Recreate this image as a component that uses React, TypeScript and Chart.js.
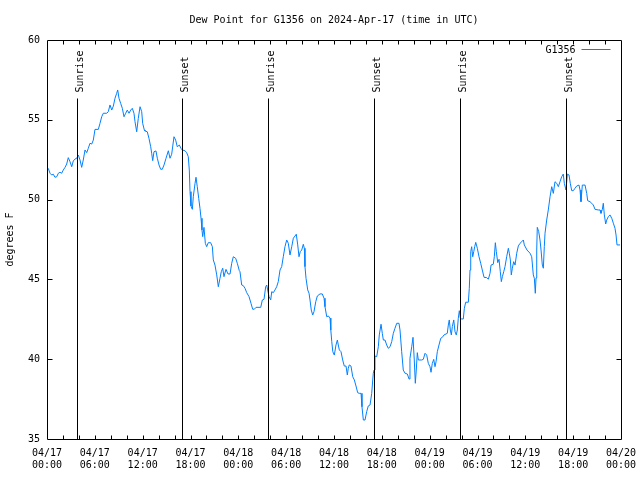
import { useEffect, useRef } from "react";
import { Chart, registerables } from "chart.js";

Chart.register(...registerables);

const TITLE = "Dew Point for G1356 on 2024-Apr-17 (time in UTC)";
const SERIES_LABEL = "G1356";
const Y_TITLE = "degrees F";
const MONTH = "04";
const START_DAY = 17;

// hours since 2024-04-17 00:00 UTC
const hours = [
  0.16, 0.38, 0.59, 0.79, 1.0, 1.22, 1.42, 1.63, 1.84, 2.04, 2.26, 2.47, 2.67, 2.89, 3.1, 3.3, 3.51, 3.73, 3.93, 4.14,
  4.35, 4.55, 4.77, 4.98, 5.18, 5.39, 5.61, 5.81, 6.02, 6.44, 6.65, 6.86, 7.06, 7.49, 7.69, 7.9, 8.12, 8.32, 8.53, 8.74,
  8.87, 9.03, 9.24, 9.45, 9.66, 9.87, 10.07, 10.29, 10.5, 10.7, 10.91, 11.04, 11.25, 11.45, 11.67, 11.88, 12.0, 12.21,
  12.29, 12.58, 12.79, 13.01, 13.13, 13.26, 13.42, 13.67, 13.84, 14.05, 14.26, 14.46, 14.68, 14.93, 15.22, 15.43, 15.64,
  15.93, 16.14, 16.34, 16.6, 16.81, 16.97, 17.31, 17.52, 17.72, 17.85, 17.94, 18.06, 18.23, 18.35, 18.57, 18.69, 18.85,
  19.03, 19.19, 19.32, 19.44, 19.53, 19.69, 19.86, 20.03, 20.23, 20.53, 20.74, 20.86, 21.07, 21.29, 21.49, 21.7, 21.86,
  22.04, 22.2, 22.45, 22.7, 22.96, 23.17, 23.37, 23.67, 23.87, 24.12, 24.21, 24.42, 24.62, 24.84, 25.05, 25.34, 25.59,
  25.8, 26.0, 26.22, 26.81, 27.01, 27.22, 27.43, 27.56, 27.68, 27.85, 28.06, 28.19, 28.39, 28.6, 28.81, 29.01, 29.23,
  29.44, 29.64, 29.85, 30.07, 30.27, 30.48, 30.7, 30.9, 31.11, 31.27, 31.45, 31.61, 31.77, 31.95, 32.15, 32.28, 32.36,
  32.49, 32.7, 32.87, 32.99, 33.15, 33.33, 33.49, 33.71, 33.91, 34.24, 34.53, 34.75, 34.87, 35.09, 35.29, 35.5, 35.6,
  35.72, 35.85, 36.04, 36.25, 36.42, 36.54, 36.67, 36.88, 37.09, 37.29, 37.51, 37.67, 37.79, 37.92, 38.13, 38.35, 38.55,
  38.76, 38.97, 39.17, 39.39, 39.51, 39.68, 39.89, 40.1, 40.3, 40.52, 40.73, 40.86, 40.93, 41.02, 41.14, 41.36, 41.56,
  41.68, 41.9, 42.06, 42.19, 42.4, 42.61, 42.81, 43.03, 43.24, 43.44, 43.65, 43.87, 44.15, 44.28, 44.49, 44.69, 44.91,
  45.2, 45.41, 45.53, 45.75, 45.91, 46.07, 46.2, 46.32, 46.45, 46.58, 47.0, 47.2, 47.42, 47.63, 47.83, 48.04, 48.17,
  48.33, 48.51, 48.67, 48.8, 48.96, 49.17, 49.39, 49.59, 49.8, 50.21, 50.34, 50.46, 50.59, 50.72, 50.84, 51.02, 51.18,
  51.34, 51.47, 51.59, 51.72, 51.85, 52.02, 52.22, 52.35, 52.52, 52.85, 52.97, 53.06, 53.15, 53.27, 53.4, 53.53, 53.65,
  53.78, 53.98, 54.19, 54.4, 54.6, 54.82, 55.16, 55.36, 55.57, 55.7, 55.98, 56.11, 56.24, 56.36, 56.54, 56.7, 56.86,
  56.99, 57.12, 57.29, 57.45, 57.66, 57.87, 57.99, 58.12, 58.24, 58.37, 58.54, 58.71, 58.92, 59.12, 59.33, 59.55, 59.75,
  59.87, 60.21, 60.59, 60.8, 61.0, 61.13, 61.25, 61.34, 61.43, 61.5, 61.68, 61.84, 61.97, 62.13, 62.26, 62.38, 62.47,
  62.68, 62.88, 63.1, 63.31, 63.51, 63.72, 63.94, 64.14, 64.35, 64.56, 64.76, 64.89, 65.1, 65.27, 65.48, 65.64, 65.82,
  66.02, 66.23, 66.44, 66.73, 66.86, 66.98, 67.15, 67.49, 67.7, 67.82, 68.11, 68.33, 68.53, 68.74, 69.16, 69.37, 69.49,
  69.66, 69.78, 69.91, 70.08, 70.21, 70.41, 70.62, 70.84, 71.04, 71.25, 71.38, 71.5, 71.88,
];

// dew point, degrees F
const dewPoint = [
  51.96, 51.65, 51.54, 51.59, 51.4, 51.43, 51.65, 51.71, 51.65, 51.85, 52.02, 52.23, 52.63, 52.37, 52.06, 52.42, 52.54,
  52.59, 52.79, 52.48, 52.02, 52.48, 53.11, 52.94, 53.21, 53.53, 53.48, 53.73, 54.4, 54.4, 54.78, 55.19, 55.41, 55.41,
  55.51, 55.93, 55.61, 55.86, 56.35, 56.66, 56.87, 56.35, 56.03, 55.72, 55.19, 55.41, 55.61, 55.41, 55.61, 55.72, 55.41,
  54.88, 54.25, 55.09, 55.82, 55.51, 54.78, 54.36,
  54.3, 54.25, 53.84, 53.31, 52.9, 52.44, 53.0, 53.05, 52.59, 52.17, 51.9, 51.9, 52.17, 52.59, 53.06, 52.59, 52.84,
  53.94, 53.73, 53.31, 53.42, 53.21, 53.11, 53.06, 52.94, 52.69, 51.85, 50.5, 49.6, 49.39, 50.18, 51.02, 51.4, 50.81,
  50.08, 49.45, 48.83, 48.1, 47.68, 48.26, 47.26, 47.05, 47.3, 47.3, 47.05, 46.22, 45.9, 45.28, 44.54, 45.07, 45.48,
  45.7, 45.17, 45.63, 45.34, 45.34, 46.01, 46.42, 46.32, 46.01, 45.55, 45.48, 44.65, 44.61, 44.44, 44.17, 43.92, 43.5,
  43.13, 43.13, 43.25, 43.25, 43.71, 43.75, 44.54, 44.65, 44.34, 43.92, 43.71, 44.23, 44.17, 44.34, 44.54, 44.86, 45.59,
  45.8, 46.42, 47.05, 47.47, 47.26, 46.53, 47.05, 47.58, 47.72, 47.83, 47.16, 46.42, 46.74, 46.84, 47.2, 46.95, 45.8,
  45.07, 44.34, 44.13, 43.71, 43.08, 42.77, 42.98, 43.6, 43.96, 44.09, 44.09, 43.82, 43.29, 42.66, 42.71, 42.58, 41.83,
  41.1, 40.47, 40.26, 40.89, 41.2, 40.89, 40.58, 40.47, 39.95, 39.57, 39.57, 39.01, 39.43, 39.64, 39.57, 38.9, 38.7,
  38.32, 37.9, 37.86, 37.86, 37.02, 36.19, 36.19, 36.71, 37.07, 37.13, 37.86, 38.7, 39.12, 39.32, 40.2, 40.16, 40.78,
  41.52, 42.19, 41.62, 41.2, 41.2, 40.89, 40.68, 40.78, 41.1, 41.62, 41.94, 42.25, 42.25, 41.83, 40.47, 39.32, 39.12,
  39.07, 38.76, 40.06, 40.78, 41.37, 39.95, 38.49, 39.32, 40.41, 39.95, 39.95, 39.99, 40.37, 40.26, 39.74, 39.53, 39.18,
  39.74, 39.99, 39.53, 39.84, 40.47, 40.89, 41.31, 41.37, 41.52, 41.62, 42.14, 42.46, 41.83, 41.52, 42.04, 42.46, 41.72,
  41.52, 41.83, 42.56, 43.04, 42.56, 42.52, 42.52, 43.19, 43.57, 43.57, 44.44, 45.59, 46.74, 47.05, 46.42, 46.74, 47.05,
  47.32, 46.95, 46.42, 46.01, 45.59, 45.13, 45.11, 45.01, 45.38, 45.9, 45.95, 46.42, 47.3, 46.74, 46.05, 46.26, 45.48,
  44.86, 45.17, 45.48, 45.8, 46.42, 46.95, 46.64, 46.22, 45.28, 45.7, 46.11, 45.9, 46.64, 47.09, 47.26, 47.36, 47.47,
  47.16, 46.84, 46.64, 46.42, 45.28, 45.07, 44.13, 45.09, 46.84, 48.26, 47.99, 47.47, 46.84, 45.9, 45.7, 47.05, 47.89,
  48.72, 49.35, 50.18, 50.81, 50.39, 51.12, 51.02, 50.81, 51.12, 51.43, 51.6, 51.02, 50.6, 51.6, 51.54, 51.02, 50.56,
  50.56, 50.71, 50.85, 50.91, 50.6, 49.87, 50.91, 50.91, 50.39, 49.93, 49.87, 49.77, 49.66, 49.39, 49.35, 49.35, 49.14,
  49.39, 49.77, 49.04, 48.47, 48.72, 48.93, 49.04, 48.83, 48.52, 48.2, 47.78, 47.16, 47.16,
];

const sunEventLabels = ["Sunrise", "Sunset", "Sunrise", "Sunset", "Sunrise", "Sunset"];
const sunEventHours = [3.8, 16.97, 27.76, 41.06, 51.85, 65.14];

const X_MIN = 0;
const X_MAX = 72;
const X_LABEL_STEP = 6;
const X_TICK_STEP = 2;
const Y_MIN = 35;
const Y_MAX = 60;
const Y_STEP = 5;

const FONT_FAMILY = "'DejaVu Sans Mono', monospace";
const FONT_SIZE = 10;
const LINE_COLOR = "#0080ff";

function pad2(n: number) {
  return n < 10 ? "0" + n : String(n);
}

function xLabel(h: number): string[] {
  const day = START_DAY + Math.floor(h / 24);
  const hh = Math.round(h % 24);
  return [`${MONTH}/${pad2(day)}`, `${pad2(hh)}:00`];
}

const gnuFramePlugin = {
  id: "gnuFrame",
  afterDatasetsDraw(chart: any) {
    const { ctx, chartArea, scales } = chart;
    const xs = scales.x;
    const ys = scales.y;
    const L = Math.floor(chartArea.left) + 0.5;
    const R = Math.floor(chartArea.right) + 0.5;
    const T = Math.floor(chartArea.top) + 0.5;
    const B = Math.floor(chartArea.bottom) + 0.5;
    ctx.save();
    ctx.strokeStyle = "#000";
    ctx.lineWidth = 1;
    ctx.font = `${FONT_SIZE}px ${FONT_FAMILY}`;
    ctx.fillStyle = "#000";

    // sunrise / sunset markers
    sunEventHours.forEach((h, i) => {
      const px = Math.round(xs.getPixelForValue(h)) + 0.5;
      ctx.beginPath();
      ctx.moveTo(px, T + 58);
      ctx.lineTo(px, B);
      ctx.stroke();
      ctx.save();
      ctx.translate(px + 5, T + 52);
      ctx.rotate(-Math.PI / 2);
      ctx.textAlign = "left";
      ctx.textBaseline = "alphabetic";
      ctx.fillText(sunEventLabels[i], 0, 0);
      ctx.restore();
    });

    // frame
    ctx.beginPath();
    ctx.rect(L, T, R - L, B - T);
    ctx.stroke();

    // x ticks (inward, mirrored)
    ctx.beginPath();
    for (let h = X_MIN + X_TICK_STEP; h < X_MAX; h += X_TICK_STEP) {
      const px = Math.round(xs.getPixelForValue(h)) + 0.5;
      ctx.moveTo(px, B);
      ctx.lineTo(px, B - 4);
      ctx.moveTo(px, T);
      ctx.lineTo(px, T + 4);
    }
    // y ticks
    for (let v = Y_MIN + Y_STEP; v < Y_MAX; v += Y_STEP) {
      const py = Math.round(ys.getPixelForValue(v)) + 0.5;
      ctx.moveTo(L, py);
      ctx.lineTo(L + 5, py);
      ctx.moveTo(R, py);
      ctx.lineTo(R - 5, py);
    }
    ctx.stroke();

    // key
    const ky = T + 9;
    ctx.textAlign = "right";
    ctx.textBaseline = "middle";
    ctx.fillText(chart.data.datasets[0].label, R - 46, ky + 1);
    ctx.strokeStyle = LINE_COLOR;
    ctx.beginPath();
    ctx.moveTo(R - 40, ky);
    ctx.lineTo(R - 11, ky);
    ctx.stroke();
    ctx.restore();
  },
};

export default function App() {
  const canvasRef = useRef<HTMLCanvasElement | null>(null);

  useEffect(() => {
    const canvas = canvasRef.current;
    if (!canvas) return;
    const font = { family: FONT_FAMILY, size: FONT_SIZE, lineHeight: 1.2 };
    const chart = new Chart(canvas, {
      type: "line",
      data: {
        datasets: [
          {
            label: SERIES_LABEL,
            data: hours.map((h, i) => ({ x: h, y: dewPoint[i] })),
            borderColor: LINE_COLOR,
            backgroundColor: LINE_COLOR,
            borderWidth: 1,
            pointRadius: 0,
            tension: 0,
            fill: false,
          },
        ],
      },
      options: {
        animation: false,
        responsive: false,
        devicePixelRatio: 1,
        events: [],
        layout: { padding: { left: 0, right: 19, top: 0, bottom: 0 } },
        plugins: {
          legend: { display: false },
          tooltip: { enabled: false },
          title: {
            display: true,
            fullSize: false,
            text: TITLE,
            color: "#000",
            font: { ...font, weight: "normal" },
            padding: { top: 14, bottom: 14 },
          },
        },
        scales: {
          x: {
            type: "linear",
            min: X_MIN,
            max: X_MAX,
            grid: { display: false, drawTicks: false },
            border: { display: false },
            afterFit: (s: any) => {
              s.height = 41;
              s.paddingLeft = 0;
              s.paddingRight = 0;
            },
            ticks: {
              stepSize: X_LABEL_STEP,
              autoSkip: false,
              maxRotation: 0,
              minRotation: 0,
              padding: 8,
              color: "#000",
              font,
              callback: (v: any) => xLabel(Number(v)),
            },
          },
          y: {
            type: "linear",
            min: Y_MIN,
            max: Y_MAX,
            grid: { display: false, drawTicks: false },
            border: { display: false },
            afterFit: (s: any) => {
              s.width = 47;
              s.paddingTop = 0;
              s.paddingBottom = 0;
            },
            title: {
              display: true,
              text: Y_TITLE,
              color: "#000",
              font,
              padding: { top: 4, bottom: 0 },
            },
            ticks: {
              stepSize: Y_STEP,
              padding: 7,
              color: "#000",
              font,
            },
          },
        },
      },
      plugins: [gnuFramePlugin],
    } as any);
    return () => chart.destroy();
  }, []);

  return (
    <div style={{ position: "fixed", left: 0, top: 0, width: 640, height: 480, background: "#fff" }}>
      <canvas ref={canvasRef} width={640} height={480} />
    </div>
  );
}
